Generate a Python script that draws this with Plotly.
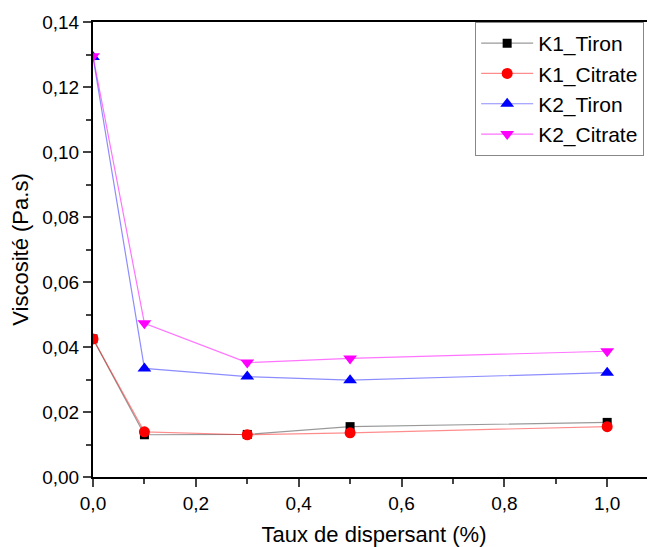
import plotly.graph_objects as go

x_vals = [0.0, 0.1, 0.3, 0.5, 1.0]
k1_tiron = [0.0425, 0.0130, 0.0131, 0.0155, 0.0168]
k1_citrate = [0.0425, 0.0139, 0.0130, 0.0136, 0.0155]
k2_tiron = [0.1292, 0.0334, 0.0309, 0.0298, 0.0321]
k2_citrate = [0.1295, 0.0473, 0.0352, 0.0365, 0.0387]

series = [
    ("K1_Tiron", k1_tiron, "black", "rgba(0,0,0,0.4)", "square", 9),
    ("K1_Citrate", k1_citrate, "red", "rgba(255,0,0,0.45)", "circle", 11),
    ("K2_Tiron", k2_tiron, "blue", "rgba(0,0,255,0.45)", "triangle-up", 12),
    ("K2_Citrate", k2_citrate, "magenta", "rgba(255,0,255,0.55)", "triangle-down", 12),
]

fig = go.Figure()
for name, ys, mc, lc, sym, sz in series:
    fig.add_trace(go.Scatter(
        x=x_vals, y=ys, name=name, mode="lines+markers",
        line=dict(color=lc, width=1.2),
        marker=dict(color=mc, symbol=sym, size=sz, line=dict(width=0)),
    ))

font_family = "Liberation Sans, Arial, sans-serif"
fig.update_layout(
    width=647, height=539,
    margin=dict(l=85, r=0, t=14, b=70, autoexpand=False),
    paper_bgcolor="white", plot_bgcolor="white",
    separators=",.",
    font=dict(family=font_family, size=19, color="black"),
    showlegend=True,
    legend=dict(
        x=0.68, y=1.0, xanchor="left", yanchor="top",
        bgcolor="white", bordercolor="#888888", borderwidth=1,
        font=dict(size=21), tracegroupgap=0, itemwidth=52,
    ),
    xaxis=dict(
        range=[0, 1.093], tickvals=[0, 0.2, 0.4, 0.6, 0.8, 1.0],
        tickformat=".1f", ticks="outside", ticklen=8, tickwidth=2,
        showline=True, linecolor="black", linewidth=2, mirror=True,
        showgrid=False, zeroline=False, automargin=False,
        minor=dict(dtick=0.1, tick0=0, ticks="outside", ticklen=5, tickwidth=2, showgrid=False),
        title=dict(text="Taux de dispersant (%)", font=dict(size=22)),
        tickfont=dict(size=19),
    ),
    yaxis=dict(
        range=[0, 0.14], dtick=0.02, tickformat=".2f",
        ticks="outside", ticklen=8, tickwidth=2,
        showline=True, linecolor="black", linewidth=2, mirror=False,
        showgrid=False, zeroline=False, automargin=False,
        minor=dict(dtick=0.01, ticks="outside", ticklen=5, tickwidth=2, showgrid=False),
        title=dict(text="Viscosité (Pa.s)", font=dict(size=22)),
        tickfont=dict(size=19),
    ),
)

fig.write_html("out.html")
